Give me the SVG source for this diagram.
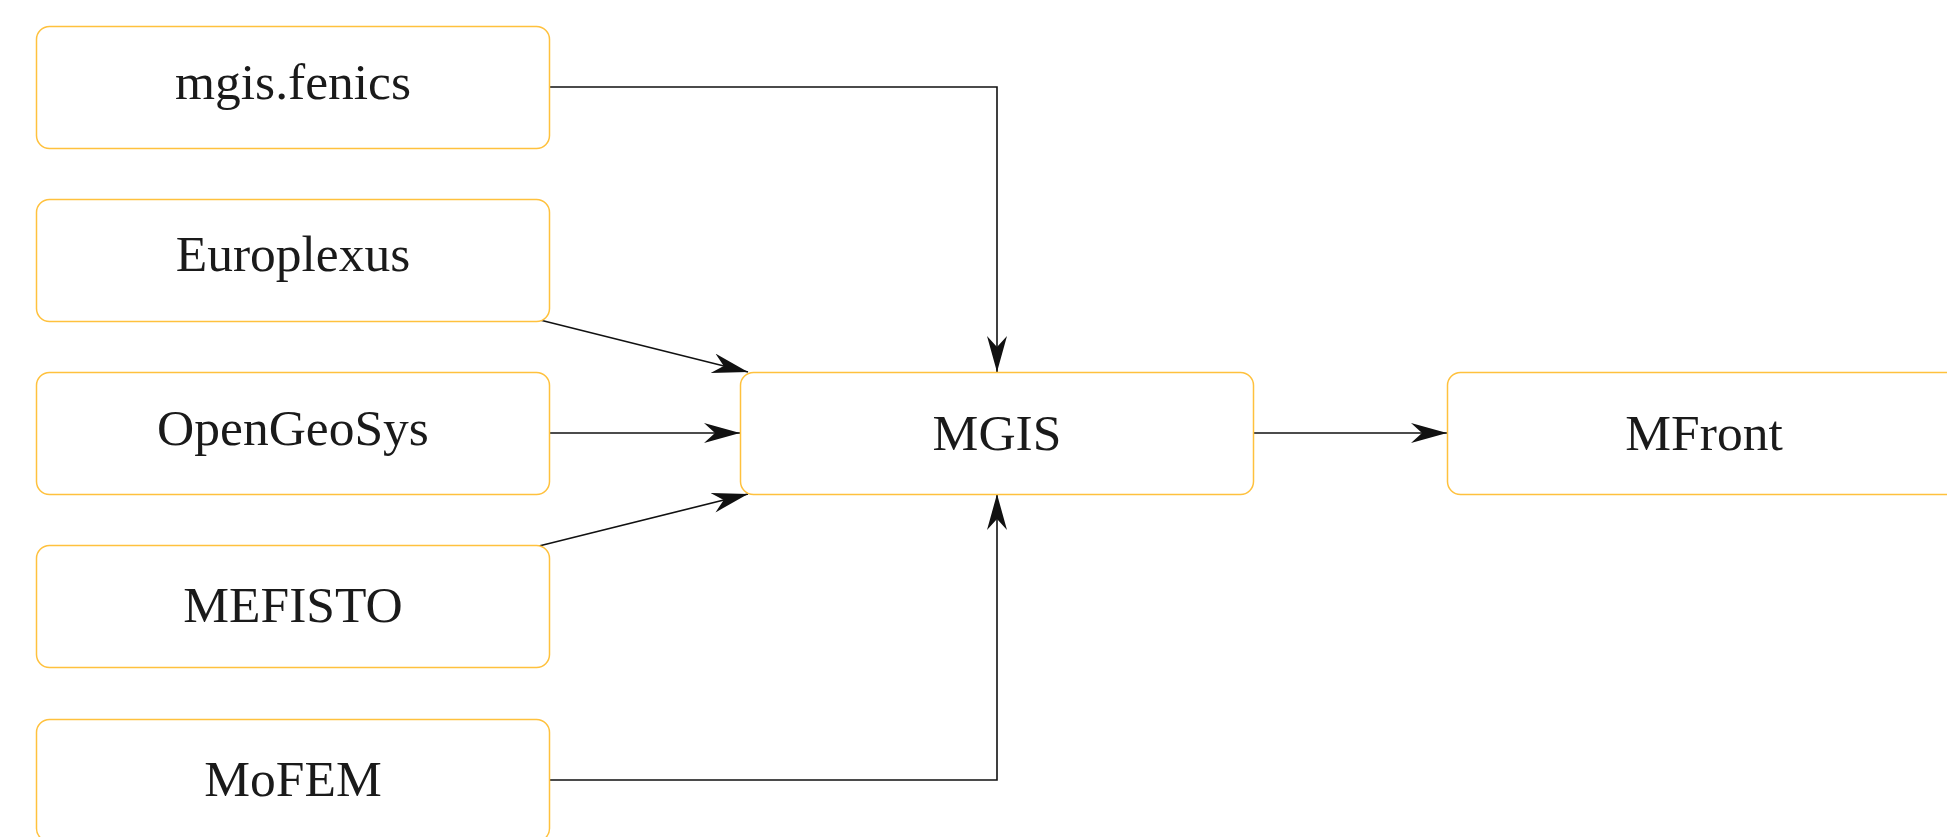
<svg xmlns="http://www.w3.org/2000/svg" width="1947" height="837" viewBox="0 0 1947 837">
<style>
.box{fill:#ffffff;stroke:#FFC13D;stroke-width:1.5}
.lbl{font-family:"Liberation Serif",serif;font-size:51.5px;fill:#1a1a1a;text-anchor:middle}
.edge{fill:none;stroke:#111111;stroke-width:1.6}
</style>
<defs>
<marker id="arr" markerUnits="userSpaceOnUse" markerWidth="40" markerHeight="24" refX="36" refY="10" orient="auto">
<path d="M0,0 L36,10 L0,20 L11,10 Z" fill="#111111"/>
</marker>
</defs>
<rect width="1947" height="837" fill="#ffffff"/>
<g id="connectors">
<path class="edge" d="M549,87 H997 V372" marker-end="url(#arr)"/>
<path class="edge" d="M540,320 L748,372" marker-end="url(#arr)"/>
<path class="edge" d="M549,433 H740" marker-end="url(#arr)"/>
<path class="edge" d="M539,546 L748,494" marker-end="url(#arr)"/>
<path class="edge" d="M549,780 H997 V494" marker-end="url(#arr)"/>
<path class="edge" d="M1254,433 H1447" marker-end="url(#arr)"/>
</g>
<g id="node-mgis-fenics">
<rect class="box" x="36.5" y="26.5" width="513" height="122" rx="13"/>
<text class="lbl" x="293" y="99">mgis.fenics</text>
</g>
<g id="node-europlexus">
<rect class="box" x="36.5" y="199.5" width="513" height="122" rx="13"/>
<text class="lbl" x="293" y="271">Europlexus</text>
</g>
<g id="node-opengeosys">
<rect class="box" x="36.5" y="372.5" width="513" height="122" rx="13"/>
<text class="lbl" x="293" y="445">OpenGeoSys</text>
</g>
<g id="node-mefisto">
<rect class="box" x="36.5" y="545.5" width="513" height="122" rx="13"/>
<text class="lbl" x="293" y="622">MEFISTO</text>
</g>
<g id="node-mofem">
<rect class="box" x="36.5" y="719.5" width="513" height="122" rx="13"/>
<text class="lbl" x="293" y="796">MoFEM</text>
</g>
<g id="node-mgis">
<rect class="box" x="740.5" y="372.5" width="513" height="122" rx="13"/>
<text class="lbl" x="997" y="450">MGIS</text>
</g>
<g id="node-mfront">
<rect class="box" x="1447.5" y="372.5" width="513" height="122" rx="13"/>
<text class="lbl" x="1704" y="450">MFront</text>
</g>
</svg>
